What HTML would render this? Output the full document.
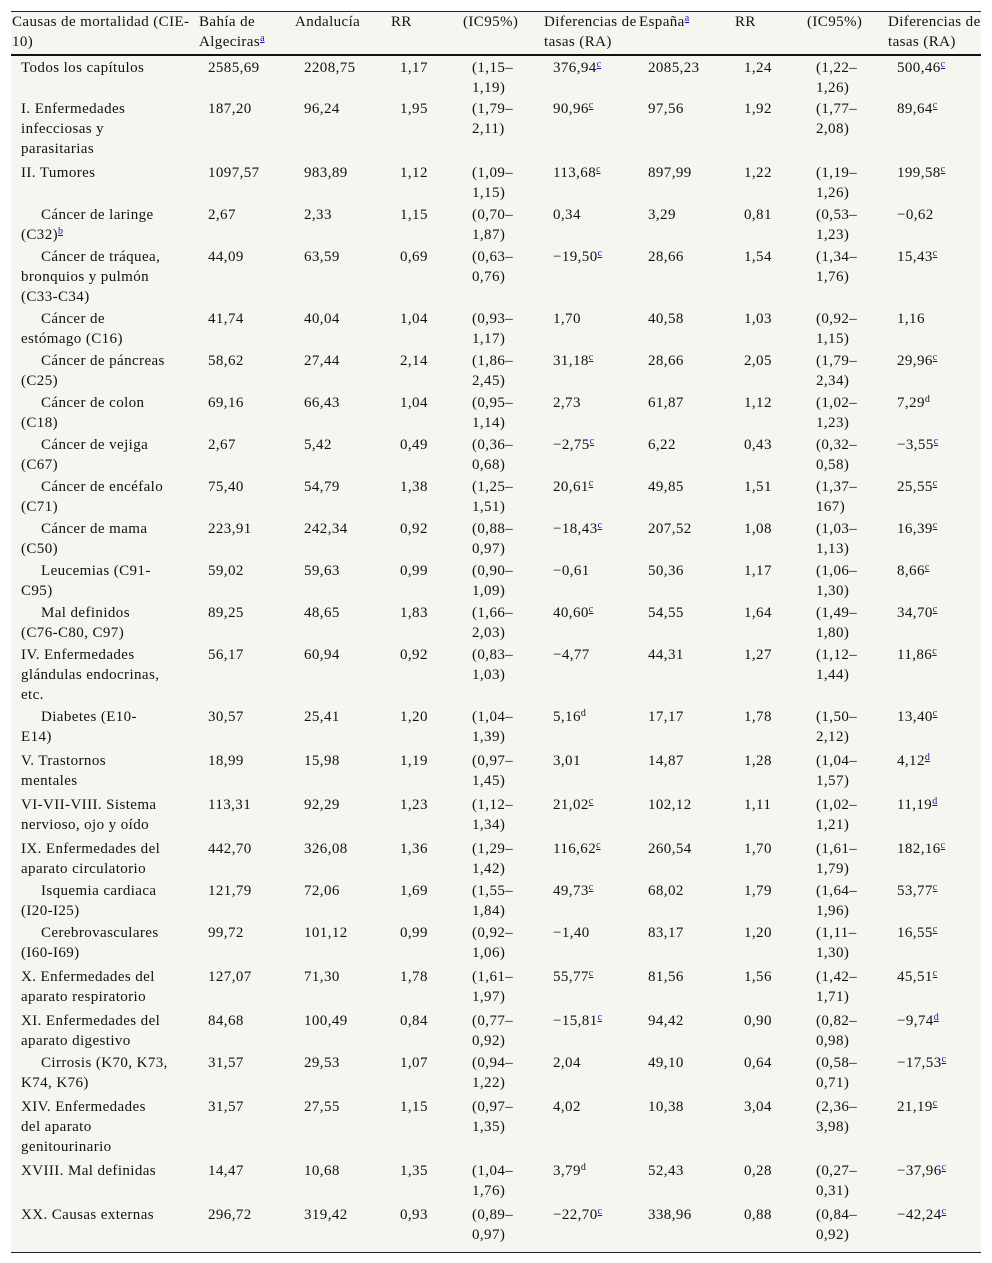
<!DOCTYPE html>
<html><head><meta charset="utf-8">
<style>
body{margin:0;width:992px;height:1263px;background:#fff;position:relative;font-family:"Liberation Serif",serif;font-size:15px;letter-spacing:0.4px;color:#111;overflow:hidden}
#tbl{position:absolute;left:11px;top:11px;width:970px;height:1240px;background:#f7f5f0;border-top:1px solid #222;border-bottom:1px solid #222}
.hl{position:absolute;left:11px;top:54px;width:970px;height:2px;background:#111}
.c{position:absolute;line-height:20px;white-space:nowrap}
sup{font-size:10px;line-height:0;vertical-align:5px;letter-spacing:0}
sup.l{color:#1a0dab;text-decoration:underline}
</style></head><body>
<div id="tbl"></div>
<div class="hl"></div>
<div id="root"></div>
<script>
const headers=[[12,"Causas de mortalidad (CIE-<br>10)"],[199,"Bahía de<br>Algeciras<sup class='l'>a</sup>"],[295,"Andalucía"],[391,"RR"],[463,"(IC95%)"],[544,"Diferencias de<br>tasas (RA)"],[639,"España<sup class='l'>a</sup>"],[735,"RR"],[807,"(IC95%)"],[888,"Diferencias de<br>tasas (RA)"]];
const colX=[21,208,304,400,472,553,648,744,816,897];
const rowY=[58,99,163,205,247,309,351,393,435,477,519,561,603,645,707,751,795,839,881,923,967,1011,1053,1097,1161,1205];
const labels=["Todos los capítulos","I. Enfermedades<br>infecciosas y<br>parasitarias","II. Tumores","~Cáncer de laringe<br>(C32)<sup class='l'>b</sup>","~Cáncer de tráquea,<br>bronquios y pulmón<br>(C33-C34)","~Cáncer de<br>estómago (C16)","~Cáncer de páncreas<br>(C25)","~Cáncer de colon<br>(C18)","~Cáncer de vejiga<br>(C67)","~Cáncer de encéfalo<br>(C71)","~Cáncer de mama<br>(C50)","~Leucemias (C91-<br>C95)","~Mal definidos<br>(C76-C80, C97)","IV. Enfermedades<br>glándulas endocrinas,<br>etc.","~Diabetes (E10-<br>E14)","V. Trastornos<br>mentales","VI-VII-VIII. Sistema<br>nervioso, ojo y oído","IX. Enfermedades del<br>aparato circulatorio","~Isquemia cardiaca<br>(I20-I25)","~Cerebrovasculares<br>(I60-I69)","X. Enfermedades del<br>aparato respiratorio","XI. Enfermedades del<br>aparato digestivo","~Cirrosis (K70, K73,<br>K74, K76)","XIV. Enfermedades<br>del aparato<br>genitourinario","XVIII. Mal definidas","XX. Causas externas"];
const bahia=["2585,69","187,20","1097,57","2,67","44,09","41,74","58,62","69,16","2,67","75,40","223,91","59,02","89,25","56,17","30,57","18,99","113,31","442,70","121,79","99,72","127,07","84,68","31,57","31,57","14,47","296,72"];
const andalucia=["2208,75","96,24","983,89","2,33","63,59","40,04","27,44","66,43","5,42","54,79","242,34","59,63","48,65","60,94","25,41","15,98","92,29","326,08","72,06","101,12","71,30","100,49","29,53","27,55","10,68","319,42"];
const rr1=["1,17","1,95","1,12","1,15","0,69","1,04","2,14","1,04","0,49","1,38","0,92","0,99","1,83","0,92","1,20","1,19","1,23","1,36","1,69","0,99","1,78","0,84","1,07","1,15","1,35","0,93"];
const ic1=["1,15|1,19","1,79|2,11","1,09|1,15","0,70|1,87","0,63|0,76","0,93|1,17","1,86|2,45","0,95|1,14","0,36|0,68","1,25|1,51","0,88|0,97","0,90|1,09","1,66|2,03","0,83|1,03","1,04|1,39","0,97|1,45","1,12|1,34","1,29|1,42","1,55|1,84","0,92|1,06","1,61|1,97","0,77|0,92","0,94|1,22","0,97|1,35","1,04|1,76","0,89|0,97"];
const ra1=["376,94^c","90,96^c","113,68^c","0,34","−19,50^c","1,70","31,18^c","2,73","−2,75^c","20,61^c","−18,43^c","−0,61","40,60^c","−4,77","5,16^D","3,01","21,02^c","116,62^c","49,73^c","−1,40","55,77^c","−15,81^c","2,04","4,02","3,79^D","−22,70^c"];
const espana=["2085,23","97,56","897,99","3,29","28,66","40,58","28,66","61,87","6,22","49,85","207,52","50,36","54,55","44,31","17,17","14,87","102,12","260,54","68,02","83,17","81,56","94,42","49,10","10,38","52,43","338,96"];
const rr2=["1,24","1,92","1,22","0,81","1,54","1,03","2,05","1,12","0,43","1,51","1,08","1,17","1,64","1,27","1,78","1,28","1,11","1,70","1,79","1,20","1,56","0,90","0,64","3,04","0,28","0,88"];
const ic2=["1,22|1,26","1,77|2,08","1,19|1,26","0,53|1,23","1,34|1,76","0,92|1,15","1,79|2,34","1,02|1,23","0,32|0,58","1,37|167","1,03|1,13","1,06|1,30","1,49|1,80","1,12|1,44","1,50|2,12","1,04|1,57","1,02|1,21","1,61|1,79","1,64|1,96","1,11|1,30","1,42|1,71","0,82|0,98","0,58|0,71","2,36|3,98","0,27|0,31","0,84|0,92"];
const ra2=["500,46^c","89,64^c","199,58^c","−0,62","15,43^c","1,16","29,96^c","7,29^D","−3,55^c","25,55^c","16,39^c","8,66^c","34,70^c","11,86^c","13,40^c","4,12^d","11,19^d","182,16^c","53,77^c","16,55^c","45,51^c","−9,74^d","−17,53^c","21,19^c","−37,96^c","−42,24^c"];
const root=document.getElementById('root');
function sup(s){return s.replace(/\^D/,"<sup>d</sup>").replace(/\^([a-d])/,"<sup class='l'>$1</sup>");}
function cell(x,y,html,name){const d=document.createElement('div');d.className='c';d.style.left=x+'px';d.style.top=y+'px';d.innerHTML=html;


root.appendChild(d);return d;}
headers.forEach((h,i)=>cell(h[0],12,h[1],'header-col-'+(i+1)));
rowY.forEach((y,i)=>{
 let l=labels[i],ind=l[0]==='~';if(ind)l=l.slice(1);
 const d=cell(colX[0],y,l,'row-label');if(ind)d.style.textIndent='20px';
 cell(colX[1],y,bahia[i],'bahia-value');
 cell(colX[2],y,andalucia[i],'andalucia-value');
 cell(colX[3],y,rr1[i],'rr-andalucia');
 const a=ic1[i].split('|');cell(colX[4],y,'('+a[0]+'–<br>'+a[1]+')','ic95-andalucia');
 cell(colX[5],y,sup(ra1[i]),'ra-andalucia');
 cell(colX[6],y,espana[i],'espana-value');
 cell(colX[7],y,rr2[i],'rr-espana');
 const b=ic2[i].split('|');cell(colX[8],y,'('+b[0]+'–<br>'+b[1]+')','ic95-espana');
 cell(colX[9],y,sup(ra2[i]),'ra-espana');
});
</script>
</body></html>
